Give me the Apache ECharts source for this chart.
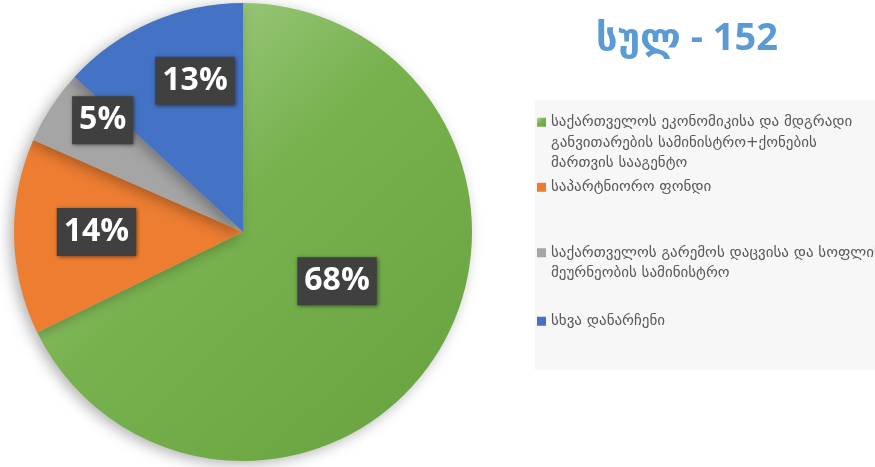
<!DOCTYPE html>
<html>
<head>
<meta charset="utf-8">
<script src="https://cdn.jsdelivr.net/npm/echarts@6/dist/echarts.min.js"></script>
</head>
<body style="margin:0;background:#fff">
<div id="main" style="width:875px;height:467px"></div>
<script>
// data
var names = [
    'საქართველოს ეკონომიკისა და მდგრადი განვითარების სამინისტრო+ქონების მართვის სააგენტო',
    'საპარტნიორო ფონდი',
    'საქართველოს გარემოს დაცვისა და სოფლის მეურნეობის სამინისტრო',
    'სხვა დანარჩენი'
];
// legend lines (leading blank lines keep the icon on the first line)
var legendText = [
    '\n\nსაქართველოს ეკონომიკისა და მდგრადი\nგანვითარების სამინისტრო+ქონების\nმართვის სააგენტო',
    'საპარტნიორო ფონდი',
    '\nსაქართველოს გარემოს დაცვისა და სოფლის\nმეურნეობის სამინისტრო',
    'სხვა დანარჩენი'
];
var values = [103, 21, 8, 20];
var total = 152;

var colors = ['#70ad47', '#ed7d31', '#a5a5a5', '#4472c4'];
var labelPos = [0.47, 0.64, 0.775, 0.68];
var labelTurn = [-0.05, 0, 0.08, 0.10];
var legendTop = [71, 177, 222, 311];

var cx = 243, cy = 232, R = 229;
var georgian = '"DejaVu Sans", sans-serif';

var myChart = echarts.init(document.getElementById('main'));

var seriesData = [];
for (var i = 0; i < names.length; i++) {
    var item = { name: names[i], value: values[i], itemStyle: { color: colors[i] } };
    if (i === 0) {
        item.itemStyle.color = new echarts.graphic.LinearGradient(0, 0, 1, 1, [
            { offset: 0, color: '#b3d69b' },
            { offset: 0.45, color: '#78b24f' },
            { offset: 1, color: '#68a23e' }
        ]);
    }
    seriesData.push(item);
}

var legends = [];
for (var j = 0; j < names.length; j++) {
    legends.push({
        data: [names[j]],
        left: 537,
        top: legendTop[j],
        padding: 0,
        itemWidth: 9,
        itemHeight: 9,
        icon: 'rect',
        selectedMode: false,
        formatter: (function (k) { return function () { return legendText[k]; }; })(j),
        textStyle: {
            fontFamily: georgian,
            fontSize: 15,
            lineHeight: 20.5,
            color: '#595959'
        }
    });
}

var option = {
    backgroundColor: '#ffffff',
    animation: false,
    title: {
        text: 'სულ - ' + total,
        left: 591,
        top: 15,
        textStyle: { fontFamily: '"Open Sans", "DejaVu Sans", sans-serif', fontSize: 38, fontWeight: 'bold', color: '#5b9bd5' }
    },
    graphic: [{
        type: 'rect',
        z: -1,
        shape: { x: 535, y: 100, width: 345, height: 270 },
        style: { fill: '#f7f7f7' }
    }],
    legend: legends,
    series: [{
        type: 'pie',
        center: [cx, cy],
        radius: [0, R],
        startAngle: 90,
        clockwise: true,
        avoidLabelOverlap: false,
        itemStyle: {
            borderWidth: 0,
            shadowBlur: 14,
            shadowOffsetX: -4,
            shadowOffsetY: 3,
            shadowColor: 'rgba(0,0,0,0.3)'
        },
        label: {
            show: true,
            position: 'inside',
            formatter: function (p) { return Math.round(p.value / total * 100) + '%'; },
            fontFamily: '"Open Sans", sans-serif',
            fontWeight: 'bold',
            fontSize: 32,
            lineHeight: 36,
            color: '#ffffff',
            backgroundColor: '#404040',
            padding: [7, 7, 5, 7],
            shadowBlur: 4,
            shadowColor: 'rgba(0,0,0,0.5)',
            shadowOffsetX: 1,
            shadowOffsetY: 1
        },
        labelLine: { show: false },
        labelLayout: function (params) {
            var r = params.labelRect;
            var lx = r.x + r.width / 2, ly = r.y + r.height / 2;
            var a = Math.atan2(ly - cy, lx - cx) + labelTurn[params.dataIndex];
            var d = labelPos[params.dataIndex] * R;
            return { x: cx + d * Math.cos(a), y: cy - 3 + d * Math.sin(a), align: 'center', verticalAlign: 'middle' };
        },
        data: seriesData
    }]
};

myChart.setOption(option);
</script>
</body>
</html>
